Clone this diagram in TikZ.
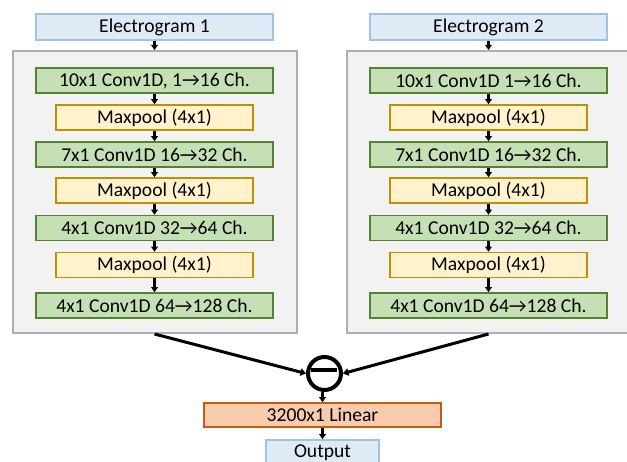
\documentclass[tikz,border=0pt]{standalone}
\usepackage{fontspec}
\setmainfont{Carlito}
\usetikzlibrary{arrows.meta}

\definecolor{inFill}{HTML}{DEEBF7}
\definecolor{inLine}{HTML}{9DC3E6}
\definecolor{convFill}{HTML}{C5E0B4}
\definecolor{convLine}{HTML}{548235}
\definecolor{poolFill}{HTML}{FFF2CC}
\definecolor{poolLine}{HTML}{BF9000}
\definecolor{linFill}{HTML}{F8CBAD}
\definecolor{linLine}{HTML}{C55A11}
\definecolor{grpFill}{HTML}{F2F2F2}
\definecolor{grpLine}{HTML}{AFAFAF}

\tikzset{
  blk/.style={rectangle, draw, line width=1.5pt, inner sep=0pt, minimum height=25pt},
  inbox/.style={blk, fill=inFill, draw=inLine, minimum height=26pt},
  convbox/.style={blk, fill=convFill, draw=convLine, minimum width=237pt},
  poolbox/.style={blk, fill=poolFill, draw=poolLine, minimum width=197pt},
  linbox/.style={blk, fill=linFill, draw=linLine, minimum width=237pt, minimum height=24pt},
  grpbox/.style={rectangle, draw=grpLine, fill=grpFill, line width=2pt, inner sep=0pt,
                 minimum width=284pt, minimum height=282pt},
  flow/.style={line width=2.4pt, -{Triangle[length=5pt,width=6.5pt]}},
  merge/.style={line width=3pt, -{Triangle[length=5.5pt,width=7.5pt]}},
}

\begin{document}
\begin{tikzpicture}[x=1pt, y=-1pt, font=\fontsize{19.6}{22}\selectfont]
\useasboundingbox (0,0) rectangle (627,462);
\clip (0,0) rectangle (627,462);

% two identical branches
\foreach \b/\cx/\lbl/\first in {L/154.5/1/{10x1 Conv1D, 1→16 Ch.}, R/488.5/2/{10x1 Conv1D 1→16 Ch.}} {
  \node[grpbox] (g\b) at (\cx,192) {};
  \node[inbox, minimum width=237pt] (e\b) at (\cx,27) {Electrogram \lbl};
  \node[convbox] (c1\b) at (\cx,80.5) {\first};
  \node[poolbox] (p1\b) at (\cx,117.5) {Maxpool (4x1)};
  \node[convbox] (c2\b) at (\cx,154.5) {7x1 Conv1D 16→32 Ch.};
  \node[poolbox] (p2\b) at (\cx,190.5) {Maxpool (4x1)};
  \node[convbox] (c3\b) at (\cx,228) {4x1 Conv1D 32→64 Ch.};
  \node[poolbox] (p3\b) at (\cx,265) {Maxpool (4x1)};
  \node[convbox] (c4\b) at (\cx,305.5) {4x1 Conv1D 64→128 Ch.};

  \draw[flow] (e\b.south) -- (e\b.south |- g\b.north);
  \draw[flow] (c1\b) -- (p1\b);
  \draw[flow] (p1\b) -- (c2\b);
  \draw[flow] (c2\b) -- (p2\b);
  \draw[flow] (p2\b) -- (c3\b);
  \draw[flow] (c3\b) -- (p3\b);
  \draw[flow] (p3\b) -- (c4\b);
}

% subtraction of the two branch outputs
\node[circle, draw, line width=4pt, fill=white, minimum size=33pt, inner sep=0pt] (diff) at (324.5,373.5) {};
\draw[line width=4pt] ([xshift=-14pt,yshift=3pt]diff.center) -- ([xshift=12pt,yshift=3pt]diff.center);

\draw[merge] (gL.south) -- (diff.west);
\draw[merge] (gR.south) -- (diff.east);

\node[linbox] (lin) at (322.5,415) {3200x1 Linear};
\node[inbox, minimum width=113pt] (out) at (322.5,453) {Output};

\draw[flow] (lin.north |- diff.south) -- (lin.north);
\draw[flow] (lin) -- (out);
\end{tikzpicture}
\end{document}
